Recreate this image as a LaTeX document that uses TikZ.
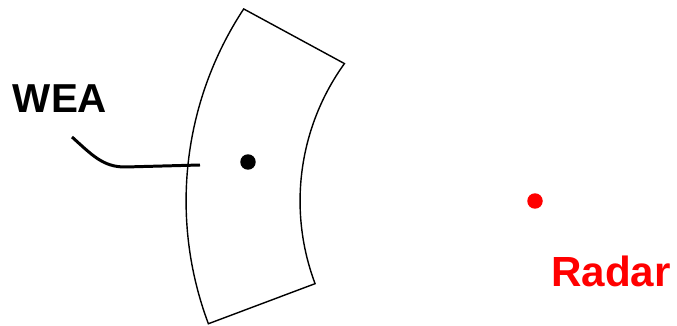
\documentclass[tikz,border=0pt]{standalone}
\usepackage{fontspec}
\setmainfont{Liberation Sans}
\usetikzlibrary{positioning}

\begin{document}
\begin{tikzpicture}[x=0.02cm,y=0.02cm,every node/.style={font=\bfseries},
  dot/.style={circle,fill,inner sep=0pt,minimum size=0.31cm}]
\useasboundingbox (0,0) rectangle (677,325);
\node[dot,red] (radar) at (535,124) {};
\node[dot] (wea) at (248,163) {};
\draw[line width=.8pt] ([shift={(radar)}]146.6:6.98cm) arc[start angle=146.6,end angle=200.6,radius=6.98cm]
  -- ([shift={(radar)}]200.6:4.7cm) arc[start angle=200.6,end angle=144.2,radius=4.7cm] -- cycle;
\node[anchor=base,font=\bfseries\fontsize{23}{23}\selectfont] (wealbl) at (60,212) {WEA};
\node[anchor=base,red,font=\bfseries\fontsize{24}{24}\selectfont] (radarlbl) at (611,38) {Radar};
\coordinate (lead) at (72,188);
\coordinate (tip) at (200,160);
\draw[line width=1.7pt] (lead) .. controls (92,170) and (103,158) .. (125,158) -- (tip);
\end{tikzpicture}
\end{document}
